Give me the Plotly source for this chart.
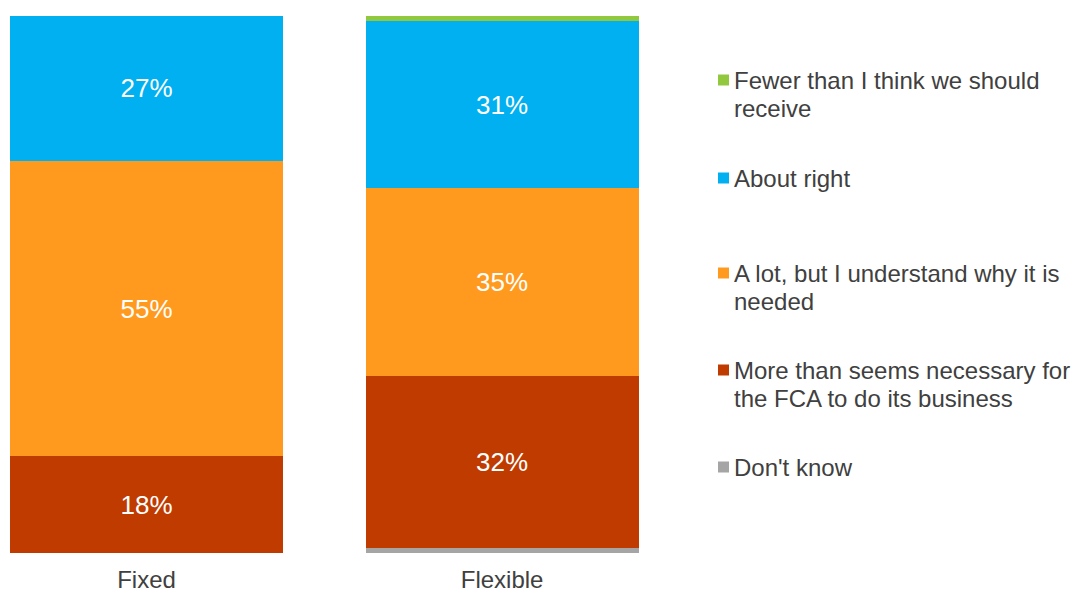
import plotly.graph_objects as go

# data
plans = ['Fixed', 'Flexible']
answers = [
    "Don't know",
    'More than seems necessary for<br>the FCA to do its business',
    'A lot, but I understand why it is<br>needed',
    'About right',
    'Fewer than I think we should<br>receive',
]
dont_know = [0, 1]
more_than = [18, 32]
a_lot = [55, 35]
about_right = [27, 31]
fewer = [0, 1]

colours = ['#A5A5A5', '#BF3B00', '#FF9A1F', '#00B0F0', '#92C83E']
series = [dont_know, more_than, a_lot, about_right, fewer]
FONT = 'Liberation Sans, Arial, sans-serif'

W, H = 1072, 592
L, R, T, B = 0, 412, 16, 39
pw, ph = W - L - R, H - T - B


def px_x(x):
    return (x - L) / pw


def px_y(y):
    return (H - B - y) / ph


fig = go.Figure()
for name, vals, col in zip(answers, series, colours):
    fig.add_trace(go.Bar(
        x=plans, y=vals, name=name.replace('<br>', ' '),
        marker=dict(color=col, line=dict(width=0)),
        width=0.768,
        text=[f'{v}%' if v >= 5 else '' for v in vals],
        textposition='inside', insidetextanchor='middle', textangle=0,
        textfont=dict(color='white', size=26, family=FONT),
        hoverinfo='skip',
    ))

# legend drawn by hand so the key sits beside the first line of each entry
row_centres = [467, 370, 273, 178, 80]
line_gap = 28
shapes, notes = [], []
for name, col, cy in zip(answers, colours, row_centres):
    shapes.append(dict(type='rect', xref='paper', yref='paper',
                       x0=px_x(718), x1=px_x(729), y0=px_y(cy + 5.5), y1=px_y(cy - 5.5),
                       fillcolor=col, line=dict(width=0)))
    for i, line in enumerate(name.split('<br>')):
        notes.append(dict(text=line, xref='paper', yref='paper',
                          x=px_x(732), y=px_y(cy + i * line_gap),
                          xanchor='left', yanchor='middle', showarrow=False,
                          font=dict(size=24, color='#404040', family=FONT)))

fig.update_layout(
    width=W, height=H,
    barmode='stack',
    showlegend=False,
    plot_bgcolor='white', paper_bgcolor='white',
    margin=dict(l=L, r=R, t=T, b=B, autoexpand=False),
    xaxis=dict(range=[-0.412, 1.444], showgrid=False, zeroline=False, showline=False,
               ticks='outside', ticklen=5, tickcolor='rgba(0,0,0,0)',
               tickfont=dict(size=24, color='#404040', family=FONT),
               automargin=False, fixedrange=True),
    yaxis=dict(range=[0, 100], visible=False, fixedrange=True),
    shapes=shapes,
    annotations=notes,
)

fig.write_html('out.html', config={'displayModeBar': False},
               post_script="document.body.style.margin='0';")
